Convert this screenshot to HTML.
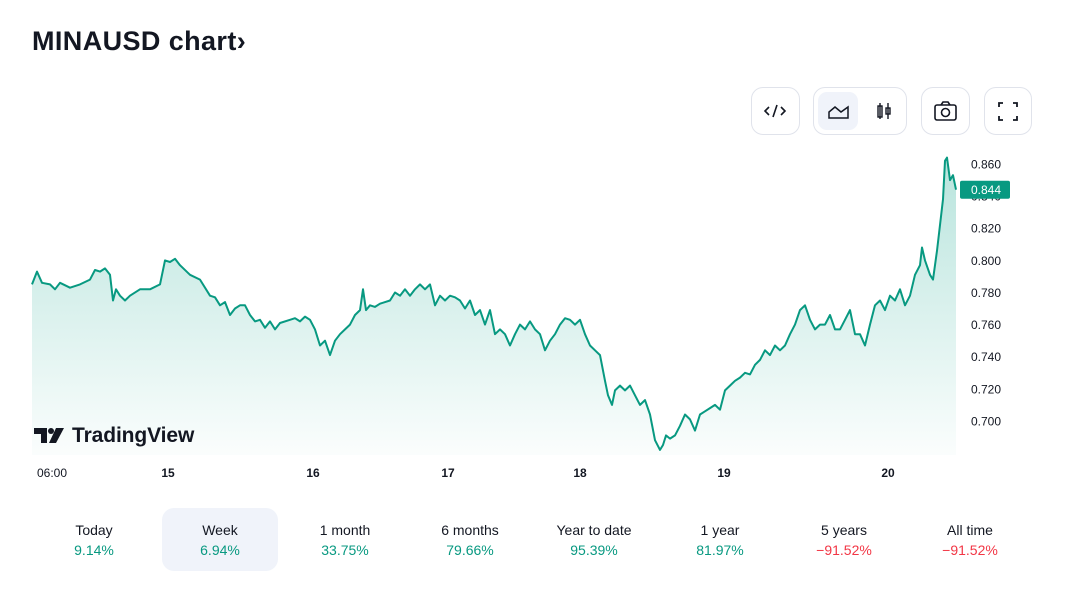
<!DOCTYPE html>
<html><head><meta charset="utf-8"><style>
body{margin:0;width:1068px;height:601px;background:#fff;font-family:"Liberation Sans","DejaVu Sans",sans-serif;overflow:hidden;position:relative;color:#131722}
.title{position:absolute;left:32px;top:26px;font-size:27px;font-weight:bold;letter-spacing:0.4px}
.btn{position:absolute;top:87px;height:48px;border:1px solid #e0e3eb;border-radius:12px;box-sizing:border-box;background:#fff}
.tab{position:absolute;top:508px;width:116px;height:63px;text-align:center;border-radius:12px}
.tab .l{margin-top:14px;font-size:14px;color:#131722}
.tab .v{margin-top:4px;font-size:14px;color:#089981}
.tab .v.neg{color:#f23645}
</style></head><body>
<div class="title">MINAUSD chart›</div>
<div class="btn" style="left:751px;width:49px">
<svg width="47" height="46"><path d="M17 19l-4 4 4 4M29 19l4 4-4 4M25 17l-4 12" stroke="#131722" stroke-width="1.6" fill="none"/></svg></div>
<div class="btn" style="left:813px;width:94px">
<div style="position:absolute;left:4px;top:4px;width:40px;height:38px;background:#f0f3fa;border-radius:9px">
<svg width="40" height="38"><path d="M11 26V20l6-5 6 5 7-5v11z" stroke="#131722" stroke-width="1.5" fill="none"/></svg></div>
<div style="position:absolute;left:50px;top:4px;width:40px;height:38px">
<svg width="40" height="38"><rect x="14" y="14" width="4" height="11" stroke="#131722" fill="none" stroke-width="1.4"/><path d="M16 11v16M24 11v16" stroke="#131722" stroke-width="1.4"/><rect x="22" y="16" width="4" height="6" stroke="#131722" fill="none" stroke-width="1.4"/></svg></div></div>
<div class="btn" style="left:921px;width:49px">
<svg width="47" height="46"><rect x="13" y="17" width="21" height="15" rx="2" stroke="#131722" stroke-width="1.6" fill="none"/><path d="M19 17l2-3h5l2 3" stroke="#131722" stroke-width="1.6" fill="none"/><circle cx="23.5" cy="24.5" r="4" stroke="#131722" stroke-width="1.6" fill="none"/></svg></div>
<div class="btn" style="left:984px;width:48px">
<svg width="46" height="46"><path d="M14 19v-4h4M28 15h4v4M32 28v4h-4M18 32h-4v-4" stroke="#131722" stroke-width="1.8" fill="none"/></svg></div>

<svg id="chart" width="1068" height="500" style="position:absolute;left:0;top:0">
<defs><linearGradient id="g" x1="0" y1="0" x2="0" y2="1"><stop offset="0" stop-color="#22ab94" stop-opacity="0.32"/><stop offset="1" stop-color="#22ab94" stop-opacity="0.02"/></linearGradient></defs>
</svg>
<div style="position:absolute;left:34px;top:424px;display:flex;align-items:center">
<svg width="34" height="20"><path d="M0 2h13v15H7V8H0z" fill="#131722"/><circle cx="17" cy="5" r="3" fill="#131722"/><path d="M22 2h8l-8 15h-7z" fill="#131722"/></svg>
<span style="font-size:21px;font-weight:bold;margin-left:4px;letter-spacing:-0.1px">TradingView</span></div>

<div class="tab" style="left:36px"><div class="l">Today</div><div class="v">9.14%</div></div>
<div class="tab" style="left:162px;background:#f0f3fa"><div class="l">Week</div><div class="v">6.94%</div></div>
<div class="tab" style="left:287px"><div class="l">1 month</div><div class="v">33.75%</div></div>
<div class="tab" style="left:412px"><div class="l">6 months</div><div class="v">79.66%</div></div>
<div class="tab" style="left:536px"><div class="l">Year to date</div><div class="v">95.39%</div></div>
<div class="tab" style="left:662px"><div class="l">1 year</div><div class="v">81.97%</div></div>
<div class="tab" style="left:786px"><div class="l">5 years</div><div class="v neg">−91.52%</div></div>
<div class="tab" style="left:912px"><div class="l">All time</div><div class="v neg">−91.52%</div></div>

<script>
const times=[0,1,2,3.6,4.6,5.6,7.6,9.6,11.6,12.6,13.6,14.6,15.6,16.2,16.8,17.6,18.6,19.6,21.6,23.6,25.6,26.6,27.6,28.6,29.6,31.6,33.6,35.6,36.6,37.6,38.6,39.6,40.6,41.6,42.6,43.6,44.6,45.6,46.6,47.6,48.6,49.6,51.6,52.6,53.6,54.6,55.6,56.6,57.6,58.6,59.6,60.6,61.6,62.6,63.6,64.6,65.6,66.2,66.8,67.6,68.6,69.6,71.6,72.6,73.6,74.6,75.6,76.6,77.6,78.6,79.6,80.6,81.6,82.6,83.6,84.6,85.6,86.6,87.6,88.6,89.6,90.6,91.6,92.6,93.6,94.6,95.6,96.6,97.6,98.6,99.6,100.6,101.6,102.6,103.6,104.6,105.6,106.6,107.6,108.6,109.6,110.6,111.6,112.6,113.6,114.6,115.2,116,116.6,117.6,118.6,119.6,120.6,121.6,122.6,123.6,124.6,125.6,126.2,126.8,127.6,128.6,129.6,130.6,131.6,132.6,133.6,134.6,135.6,136.6,137.6,138.6,139.6,140.6,141.6,142.6,143.6,144.6,145.6,146.6,147.6,148.6,149.6,150.6,151.6,152.6,153.6,154.6,155.6,156.6,157.6,158.6,159.6,160.6,161.6,162.6,163.6,164.6,165.6,166.6,167.6,168.6,169.6,170.6,171.6,172.6,173.6,174.6,175.6,176.6,177.6,178,178.6,179.6,180.2,181,181.6,182.2,182.6,183,183.6,184.2,184.8];
const prices=[0.785,0.793,0.786,0.785,0.782,0.786,0.783,0.785,0.788,0.794,0.793,0.795,0.791,0.775,0.782,0.778,0.775,0.778,0.782,0.782,0.785,0.800,0.799,0.801,0.797,0.791,0.788,0.778,0.777,0.772,0.774,0.766,0.770,0.772,0.772,0.766,0.762,0.763,0.758,0.762,0.757,0.761,0.763,0.764,0.762,0.765,0.763,0.757,0.747,0.750,0.741,0.750,0.754,0.757,0.760,0.766,0.769,0.782,0.769,0.772,0.771,0.773,0.775,0.780,0.778,0.782,0.778,0.782,0.785,0.782,0.785,0.772,0.778,0.775,0.778,0.777,0.775,0.770,0.775,0.766,0.769,0.760,0.769,0.754,0.757,0.754,0.747,0.754,0.760,0.757,0.762,0.757,0.754,0.744,0.750,0.754,0.760,0.764,0.763,0.760,0.763,0.754,0.747,0.744,0.741,0.725,0.716,0.710,0.719,0.722,0.719,0.722,0.716,0.710,0.713,0.704,0.688,0.682,0.685,0.691,0.689,0.691,0.697,0.704,0.701,0.694,0.704,0.706,0.708,0.710,0.707,0.719,0.722,0.725,0.727,0.730,0.729,0.735,0.738,0.744,0.741,0.747,0.744,0.747,0.754,0.760,0.769,0.772,0.763,0.757,0.760,0.760,0.766,0.757,0.757,0.763,0.769,0.754,0.754,0.747,0.760,0.772,0.775,0.769,0.778,0.775,0.782,0.772,0.778,0.791,0.797,0.808,0.800,0.791,0.788,0.806,0.822,0.838,0.862,0.864,0.850,0.853,0.844];
const yTicks=[0.700,0.720,0.740,0.760,0.780,0.800,0.820,0.840,0.860];
const xTickTimes=[4,27.2,56.2,83.2,109.6,138.4,171.2];
const xTickLabels=["06:00","15","16","17","18","19","20"];
const lastLabel="0.844";

const NS="http://www.w3.org/2000/svg";
const svg=document.getElementById('chart');
const X=t=>32+t*5;
const Y=v=>164+(0.86-v)*1606;
const bottom=455;
function mk(tag,attrs){const e=document.createElementNS(NS,tag);for(const k in attrs)e.setAttribute(k,attrs[k]);svg.appendChild(e);return e;}
let d=times.map((t,i)=>(i?'L':'M')+X(t).toFixed(1)+' '+Y(prices[i]).toFixed(1)).join(' ');
const area=mk('path',{d:d+` L${X(times[times.length-1])} ${bottom} L${X(times[0])} ${bottom} Z`,fill:'url(#g)'});


const line=mk('path',{d:d,fill:'none',stroke:'#089981','stroke-width':2,'stroke-linejoin':'round'});


yTicks.forEach(v=>{
  const t=mk('text',{x:971,y:Y(v)+4.5,'font-size':12,fill:'#131722','font-family':'Liberation Sans, sans-serif'});
  t.textContent=v.toFixed(3);
  
  
});
xTickTimes.forEach((tt,i)=>{
  const t=mk('text',{x:X(tt),y:477,'font-size':12,fill:'#131722','text-anchor':'middle','font-weight':i?'bold':'normal','font-family':'Liberation Sans, sans-serif'});
  t.textContent=xTickLabels[i];
  
  
});
const lv=parseFloat(lastLabel);
const r=mk('rect',{x:960,y:Y(lv)-9,width:50,height:18,rx:2,fill:'#089981'});


const lt=mk('text',{x:971,y:Y(lv)+4.5,'font-size':12,fill:'#fff','font-family':'Liberation Sans, sans-serif'});
lt.textContent=lastLabel;


</script>
</body></html>
